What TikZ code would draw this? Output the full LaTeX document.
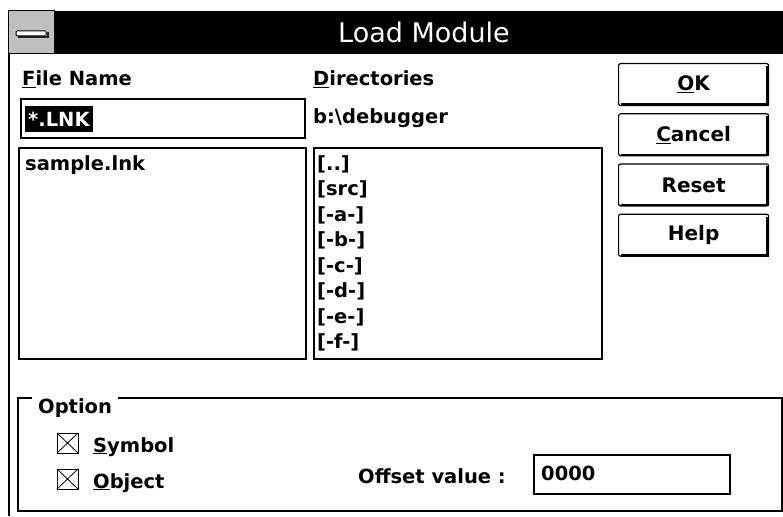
\documentclass[tikz,border=0pt]{standalone}
\usepackage{fontspec}
\setmainfont{DejaVu Sans}
\usetikzlibrary{positioning}
\tikzstyle{lbl} = [anchor=base west, inner sep=0pt, font=\bfseries\fontsize{19.5}{22}\selectfont]
\tikzstyle{field} = [draw, line width=1.6pt, anchor=north west, inner sep=0pt]
\tikzstyle{btn} = [draw, line width=1.2pt, rounded corners=2pt, minimum width=150pt, minimum height=42pt, font=\bfseries\fontsize{20}{22}\selectfont]

\begin{document}
\begin{tikzpicture}[x=1pt,y=-1pt,node distance=7pt]
	\useasboundingbox (0,0) rectangle (783,516);
	% title bar
	\fill (8,11) rectangle (783,54);
	\filldraw[fill=gray!50, line width=1pt] (8,11) rectangle (54,54);
	\draw[line width=2pt, gray!30!black] (18,37.5) -- (47.5,37.5) -- (47.5,32);
	\filldraw[fill=white, rounded corners=1pt, line width=1pt] (16,31) rectangle (46,36);
	\node[text=white, font=\fontsize{27}{29}\selectfont] (title) at (424,32) {Load Module};
	\draw[line width=2pt] (9,54) -- (9,516);

	% files
	\node[lbl] (fnlbl) at (22,86) {\underline{F}ile Name};
	\node[field, minimum width=284pt, minimum height=39pt] (fname) at (20,98) {};
	\node[fill=black, text=white, anchor=north west, minimum height=26pt, inner xsep=3pt, inner ysep=0pt,
		font=\bfseries\fontsize{19.5}{22}\selectfont] (fsel) at (25,106) {*.LNK};
	\node[field, minimum width=287pt, minimum height=211pt] (flist) at (18,147) {};
	\node[lbl] (fitem) at (25,170) {sample.lnk};

	% directories
	\node[lbl] (dirlbl) at (313,86) {\underline{D}irectories};
	\node[lbl] (dirpath) at (313,123) {b:\textbackslash debugger};
	\node[field, minimum width=288pt, minimum height=211pt] (dlist) at (313,147) {};
	\foreach \d [count=\i from 0] in {{[..]},{[src]},{[-a-]},{[-b-]},{[-c-]},{[-d-]},{[-e-]},{[-f-]}}
		\node[lbl] (dir\i) at (317,{170+25.5*\i}) {\d};

	% buttons
	\node[btn, anchor=north west] (ok) at (618,63) {\underline{O}K};
	\node[btn, below=of ok] (cancel) {\underline{C}ancel};
	\node[btn, below=of cancel] (reset) {Reset};
	\node[btn, below=of reset] (help) {Help};
	\foreach \b in {ok,cancel,reset,help}
		\draw[line width=2.5pt] ([shift={(-1.5,3)}]\b.north east) -- ([shift={(-1.5,-1.5)}]\b.south east) -- ([shift={(3,-1.5)}]\b.south west);

	% option group
	\draw[line width=1.4pt] (118,398) -- (782,398) -- (782,511) -- (18,511) -- (18,398) -- (32,398);
	\node[lbl] (optlbl) at (38,413) {Option};
	\foreach \y/\t/\n in {433/\underline{S}ymbol/sym, 469/\underline{O}bject/obj} {
		\draw[line width=0.8pt] (57,\y) rectangle +(21,20);
		\draw[line width=0.8pt] (57,\y) -- +(21,20) (78,\y) -- +(-21,20);
		\node[lbl] (\n) at (93,\y+19) {\t};
	}
	\node[field, minimum width=196pt, minimum height=39pt] (offset) at (533,454) {};
	\node[lbl] (offlbl) at (358,483) {Offset value :};
	\node[lbl] (offval) at (541,480) {0000};
\end{tikzpicture}
\end{document}
